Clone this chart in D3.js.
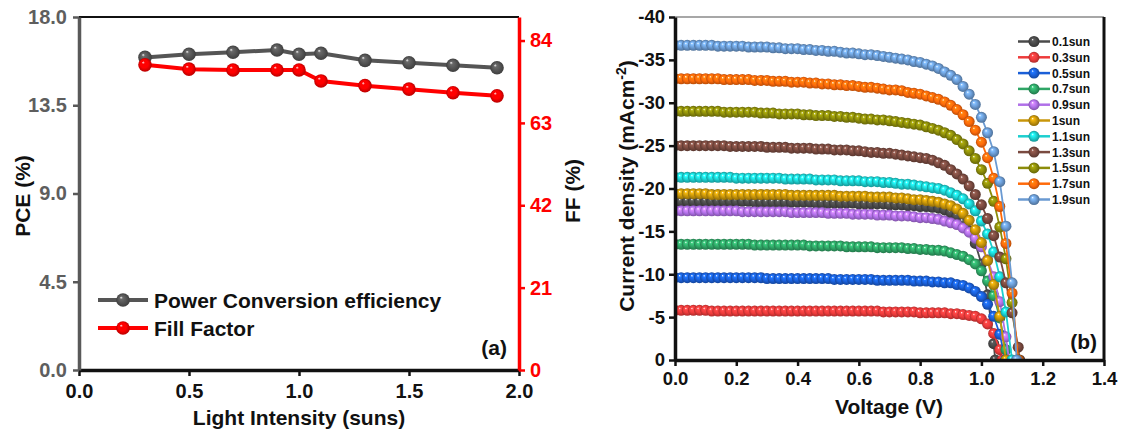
<!DOCTYPE html>
<html>
<head>
<meta charset="utf-8">
<script src="https://cdn.jsdelivr.net/npm/d3@7"></script>
<style>
  body { margin: 0; background: #fff; }
  svg { display: block; font-family: "Liberation Sans", Arial, sans-serif; font-weight: bold; }
</style>
</head>
<body>
<div id="canvas"></div>
<script>
// DATA - panel (a)
const intensity = [0.3, 0.5, 0.7, 0.9, 1.0, 1.1, 1.3, 1.5, 1.7, 1.9];
const pce = [15.94, 16.10, 16.20, 16.32, 16.10, 16.15, 15.79, 15.67, 15.54, 15.41];
const ff = [77.8, 76.7, 76.5, 76.5, 76.5, 73.7, 72.5, 71.6, 70.7, 69.9];

const pceTicks = [0, 4.5, 9, 13.5, 18];
const ffTicks = [0, 21, 42, 63, 84];
const intensityTicks = [0, 0.5, 1, 1.5, 2];

// DATA - panel (b)
const suns = ["0.1sun", "0.3sun", "0.5sun", "0.7sun", "0.9sun", "1sun", "1.1sun", "1.3sun", "1.5sun", "1.7sun", "1.9sun"];

const voltage = [
  0.00, 0.02, 0.04, 0.06, 0.08, 0.10, 0.12, 0.14, 0.16, 0.18,
  0.20, 0.22, 0.24, 0.26, 0.28, 0.30, 0.32, 0.34, 0.36, 0.38,
  0.40, 0.42, 0.44, 0.46, 0.48, 0.50, 0.52, 0.54, 0.56, 0.58,
  0.60, 0.62, 0.64, 0.66, 0.68, 0.70, 0.72, 0.74, 0.76, 0.78,
  0.80, 0.82, 0.84, 0.86, 0.88, 0.90, 0.92, 0.94, 0.96, 0.98,
  1.00, 1.02, 1.04, 1.06, 1.08, 1.10, 1.12
];

// open circuit voltage of each curve (J = 0)
const voc = [1.045, 1.068, 1.078, 1.085, 1.09, 1.08, 1.10, 1.125, 1.12, 1.12, 1.115];

const j01 = [
  -18.5,-18.5,-18.5,-18.5,-18.5,-18.5,-18.5,-18.5,-18.5,-18.5,
  -18.5,-18.5,-18.5,-18.4,-18.4,-18.4,-18.4,-18.4,-18.4,-18.4,
  -18.4,-18.4,-18.4,-18.3,-18.3,-18.3,-18.3,-18.3,-18.3,-18.3,
  -18.2,-18.2,-18.2,-18.2,-18.2,-18.1,-18.1,-18.1,-18.0,-18.0,
  -17.9,-17.9,-17.8,-17.7,-17.5,-17.2,-16.8,-16.1,-15.1,-13.6,
  -11.2,-7.6,-1.9
];
const j03 = [
  -5.8,-5.8,-5.8,-5.8,-5.8,-5.8,-5.7,-5.7,-5.7,-5.7,
  -5.7,-5.7,-5.7,-5.7,-5.7,-5.7,-5.7,-5.7,-5.7,-5.7,
  -5.7,-5.7,-5.7,-5.7,-5.7,-5.7,-5.7,-5.7,-5.7,-5.7,
  -5.7,-5.7,-5.7,-5.7,-5.6,-5.6,-5.6,-5.6,-5.6,-5.6,
  -5.5,-5.5,-5.5,-5.5,-5.5,-5.4,-5.4,-5.3,-5.2,-5.1,
  -4.8,-4.2,-3.1,-1.2
];
const j05 = [
  -9.6,-9.6,-9.6,-9.6,-9.6,-9.6,-9.6,-9.6,-9.6,-9.6,
  -9.6,-9.6,-9.6,-9.6,-9.6,-9.5,-9.5,-9.5,-9.5,-9.5,
  -9.5,-9.5,-9.5,-9.5,-9.5,-9.5,-9.4,-9.4,-9.4,-9.4,
  -9.4,-9.4,-9.4,-9.3,-9.3,-9.3,-9.3,-9.3,-9.3,-9.2,
  -9.2,-9.2,-9.1,-9.1,-9.0,-9.0,-8.8,-8.7,-8.4,-8.0,
  -7.4,-6.5,-5.1,-3.0
];
const j07 = [
  -13.5,-13.5,-13.5,-13.5,-13.5,-13.5,-13.5,-13.5,-13.5,-13.5,
  -13.5,-13.5,-13.5,-13.4,-13.4,-13.4,-13.4,-13.4,-13.4,-13.4,
  -13.4,-13.4,-13.3,-13.3,-13.3,-13.3,-13.3,-13.3,-13.2,-13.2,
  -13.2,-13.2,-13.2,-13.1,-13.1,-13.1,-13.1,-13.1,-13.0,-13.0,
  -12.9,-12.9,-12.8,-12.8,-12.7,-12.5,-12.3,-12.1,-11.7,-11.2,
  -10.4,-9.2,-7.5,-4.9,-1.2
];
const j09 = [
  -17.4,-17.4,-17.4,-17.4,-17.4,-17.4,-17.4,-17.4,-17.4,-17.4,
  -17.4,-17.3,-17.3,-17.3,-17.3,-17.3,-17.3,-17.3,-17.3,-17.2,
  -17.2,-17.2,-17.2,-17.2,-17.2,-17.1,-17.1,-17.1,-17.1,-17.0,
  -17.0,-17.0,-17.0,-16.9,-16.9,-16.9,-16.8,-16.8,-16.8,-16.7,
  -16.6,-16.6,-16.5,-16.4,-16.2,-16.0,-15.8,-15.4,-14.9,-14.2,
  -13.2,-11.7,-9.7,-6.8,-2.7
];
const j10 = [
  -19.4,-19.4,-19.4,-19.4,-19.4,-19.4,-19.3,-19.3,-19.3,-19.3,
  -19.3,-19.3,-19.3,-19.3,-19.3,-19.3,-19.3,-19.3,-19.3,-19.2,
  -19.2,-19.2,-19.2,-19.2,-19.2,-19.2,-19.2,-19.1,-19.1,-19.1,
  -19.1,-19.1,-19.0,-19.0,-19.0,-19.0,-18.9,-18.9,-18.8,-18.7,
  -18.7,-18.6,-18.5,-18.4,-18.2,-18.0,-17.6,-17.1,-16.3,-15.2,
  -13.7,-11.6,-8.8,-5.1
];
const j11 = [
  -21.3,-21.3,-21.3,-21.3,-21.3,-21.3,-21.3,-21.3,-21.3,-21.3,
  -21.2,-21.2,-21.2,-21.2,-21.2,-21.2,-21.2,-21.2,-21.1,-21.1,
  -21.1,-21.1,-21.1,-21.0,-21.0,-21.0,-21.0,-20.9,-20.9,-20.9,
  -20.9,-20.8,-20.8,-20.8,-20.7,-20.7,-20.6,-20.5,-20.5,-20.4,
  -20.3,-20.2,-20.1,-20.0,-19.8,-19.5,-19.2,-18.8,-18.2,-17.4,
  -16.2,-14.7,-12.6,-9.7,-5.6
];
const j13 = [
  -25.0,-25.0,-25.0,-25.0,-25.0,-25.0,-25.0,-25.0,-25.0,-24.9,
  -24.9,-24.9,-24.9,-24.9,-24.9,-24.8,-24.8,-24.8,-24.8,-24.7,
  -24.7,-24.7,-24.7,-24.6,-24.6,-24.6,-24.5,-24.5,-24.5,-24.4,
  -24.4,-24.3,-24.2,-24.2,-24.1,-24.1,-24.0,-23.9,-23.8,-23.7,
  -23.6,-23.5,-23.3,-23.0,-22.7,-22.2,-21.7,-21.1,-20.3,-19.3,
  -18.1,-16.5,-14.5,-12.0,-9.0,-5.5,-1.5
];
const j15 = [
  -29.0,-29.0,-29.0,-29.0,-29.0,-29.0,-29.0,-29.0,-28.9,-28.9,
  -28.9,-28.9,-28.9,-28.9,-28.8,-28.8,-28.8,-28.7,-28.7,-28.7,
  -28.7,-28.6,-28.6,-28.5,-28.5,-28.5,-28.4,-28.4,-28.3,-28.3,
  -28.2,-28.1,-28.1,-28.0,-28.0,-27.9,-27.8,-27.7,-27.6,-27.5,
  -27.4,-27.2,-27.0,-26.8,-26.5,-26.2,-25.7,-25.2,-24.4,-23.5,
  -22.2,-20.6,-18.5,-15.5,-11.8,-6.7
];
const j17 = [
  -32.8,-32.8,-32.8,-32.8,-32.8,-32.8,-32.8,-32.8,-32.7,-32.7,
  -32.7,-32.7,-32.7,-32.6,-32.6,-32.6,-32.5,-32.5,-32.5,-32.4,
  -32.4,-32.4,-32.3,-32.3,-32.2,-32.2,-32.1,-32.1,-32.0,-32.0,
  -31.9,-31.8,-31.8,-31.7,-31.6,-31.5,-31.5,-31.4,-31.2,-31.1,
  -31.0,-30.8,-30.6,-30.4,-30.1,-29.7,-29.2,-28.6,-27.8,-26.8,
  -25.4,-23.6,-21.2,-17.9,-13.6,-7.8
];
const j19 = [
  -36.7,-36.7,-36.7,-36.7,-36.7,-36.7,-36.7,-36.6,-36.6,-36.6,
  -36.6,-36.6,-36.5,-36.5,-36.5,-36.5,-36.4,-36.4,-36.3,-36.3,
  -36.3,-36.2,-36.2,-36.1,-36.1,-36.0,-36.0,-35.9,-35.8,-35.8,
  -35.7,-35.6,-35.6,-35.5,-35.4,-35.3,-35.2,-35.1,-35.0,-34.8,
  -34.7,-34.5,-34.3,-34.0,-33.6,-33.2,-32.7,-31.9,-31.0,-29.8,
  -28.3,-26.5,-24.3,-20.8,-15.6,-9.0
];
const currents = [j01, j03, j05, j07, j09, j10, j11, j13, j15, j17, j19];

const voltageTicks = [0, 0.2, 0.4, 0.6, 0.8, 1.0, 1.2, 1.4];
const currentTicks = [0, -5, -10, -15, -20, -25, -30, -35, -40];

// STYLES
const sunColors = ["#4a4a4a", "#ee3b3b", "#1a5fd8", "#2fa566", "#b070e8", "#c8960a",
                   "#1ccfcf", "#7a4a40", "#8c8c0a", "#ff6a0a", "#6a9ad2"];
const pceColor = "#555555";
const ffColor = "#ff0000";

// CANVAS
const width = 1123;
const height = 434;

const svg = d3.select("#canvas")
  .append("svg")
  .attr("width", width)
  .attr("height", height)
  .style("background", "#fff");

const defs = svg.append("defs");

function ballGradient(id, color) {
  const grad = defs.append("radialGradient")
    .attr("id", id)
    .attr("cx", "50%").attr("cy", "50%").attr("r", "50%")
    .attr("fx", "35%").attr("fy", "30%");
  grad.append("stop").attr("offset", "0%").attr("stop-color", "#ffffff");
  grad.append("stop").attr("offset", "22%").attr("stop-color", d3.color(color).brighter(0.6));
  grad.append("stop").attr("offset", "60%").attr("stop-color", color);
  grad.append("stop").attr("offset", "100%").attr("stop-color", d3.color(color).darker(0.9));
  return `url(#${id})`;
}

function styleAxis(g, color, textColor, size) {
  g.attr("font-family", null).attr("font-size", null);
  g.select(".domain").attr("stroke", color).attr("stroke-width", 3.5);
  g.selectAll(".tick line").attr("stroke", color).attr("stroke-width", 2.5);
  g.selectAll(".tick text")
    .attr("fill", textColor)
    .style("font-size", size + "px")
    .style("font-weight", "bold");
}

// ===================== PANEL (a) =====================
const xA = d3.scaleLinear().domain([0, 2]).range([79, 519]);
const yA = d3.scaleLinear().domain([0, 18]).range([370, 17]);
const yFF = d3.scaleLinear().domain([0, 90]).range([370, 17]);

// frame top
svg.append("line")
  .attr("x1", xA(0)).attr("x2", xA(2))
  .attr("y1", yA(18)).attr("y2", yA(18))
  .attr("stroke", "#111").attr("stroke-width", 2);

const pceLine = d3.line().x((d, i) => xA(intensity[i])).y(d => yA(d));
const ffLine = d3.line().x((d, i) => xA(intensity[i])).y(d => yFF(d));

const pceFill = ballGradient("ballPce", pceColor);
const ffFill = ballGradient("ballFf", ffColor);

svg.append("path").datum(pce)
  .attr("d", pceLine).attr("fill", "none")
  .attr("stroke", pceColor).attr("stroke-width", 4);
svg.append("path").datum(ff)
  .attr("d", ffLine).attr("fill", "none")
  .attr("stroke", ffColor).attr("stroke-width", 4);

svg.selectAll("circle.pce")
  .data(pce)
  .join("circle")
  .attr("class", "pce")
  .attr("cx", (d, i) => xA(intensity[i]))
  .attr("cy", d => yA(d))
  .attr("r", 6.8)
  .attr("fill", pceFill);

svg.selectAll("circle.ff")
  .data(ff)
  .join("circle")
  .attr("class", "ff")
  .attr("cx", (d, i) => xA(intensity[i]))
  .attr("cy", d => yFF(d))
  .attr("r", 6.8)
  .attr("fill", ffFill);

// axes
const axA_b = svg.append("g")
  .attr("transform", `translate(0,${yA(0)})`)
  .call(d3.axisBottom(xA).tickValues(intensityTicks).tickFormat(d3.format(".1f"))
    .tickSize(6).tickSizeOuter(0).tickPadding(8));
styleAxis(axA_b, "#111", "#111", 20);

const axA_l = svg.append("g")
  .attr("transform", `translate(${xA(0)},0)`)
  .call(d3.axisLeft(yA).tickValues(pceTicks).tickFormat(d3.format(".1f"))
    .tickSize(6).tickSizeOuter(0).tickPadding(6));
styleAxis(axA_l, "#595959", "#5e5e5e", 20);

const axA_r = svg.append("g")
  .attr("transform", `translate(${xA(2)},0)`)
  .call(d3.axisRight(yFF).tickValues(ffTicks).tickFormat(d3.format("d"))
    .tickSize(6).tickSizeOuter(0).tickPadding(5));
styleAxis(axA_r, ffColor, ffColor, 20);

// titles
svg.append("text")
  .attr("transform", "translate(30,196) rotate(-90)")
  .attr("text-anchor", "middle")
  .style("font-size", "21px").attr("fill", "#111")
  .text("PCE (%)");

svg.append("text")
  .attr("transform", "translate(580,191) rotate(-90)")
  .attr("text-anchor", "middle")
  .style("font-size", "21px").attr("fill", "#111")
  .text("FF (%)");

svg.append("text")
  .attr("x", 299).attr("y", 425)
  .attr("text-anchor", "middle")
  .style("font-size", "21px").attr("fill", "#111")
  .text("Light Intensity (suns)");

svg.append("text")
  .attr("x", 507).attr("y", 355)
  .attr("text-anchor", "end")
  .style("font-size", "21px").attr("fill", "#111")
  .text("(a)");

// legend (a)
const legendA = [
  { label: "Power Conversion efficiency", color: pceColor, fill: pceFill, y: 300 },
  { label: "Fill Factor", color: ffColor, fill: ffFill, y: 328 }
];
const legA = svg.selectAll("g.legA")
  .data(legendA)
  .join("g")
  .attr("class", "legA")
  .attr("transform", d => `translate(0,${d.y})`);
legA.append("line")
  .attr("x1", 98).attr("x2", 148)
  .attr("stroke", d => d.color).attr("stroke-width", 4);
legA.append("circle")
  .attr("cx", 123).attr("r", 6.8)
  .attr("fill", d => d.fill);
legA.append("text")
  .attr("x", 154).attr("y", 7.5)
  .style("font-size", "21px").attr("fill", "#111")
  .text(d => d.label);

// ===================== PANEL (b) =====================
const xB = d3.scaleLinear().domain([0, 1.4]).range([675, 1104]);
const yB = d3.scaleLinear().domain([0, -40]).range([360, 17]);

defs.append("clipPath").attr("id", "clipB")
  .append("rect")
  .attr("x", xB(0)).attr("y", yB(-40))
  .attr("width", xB(1.4) - xB(0)).attr("height", yB(0) - yB(-40));

// frame top and right
svg.append("line")
  .attr("x1", xB(0)).attr("x2", xB(1.4))
  .attr("y1", yB(-40)).attr("y2", yB(-40))
  .attr("stroke", "#8a8a8a").attr("stroke-width", 1.5);
svg.append("line")
  .attr("x1", xB(1.4)).attr("x2", xB(1.4))
  .attr("y1", yB(-40)).attr("y2", yB(0))
  .attr("stroke", "#111").attr("stroke-width", 3);

const curves = currents.map((j, k) => {
  const pts = j.map((v, i) => [voltage[i], v]);
  pts.push([voc[k], 0]);
  return { name: suns[k], color: sunColors[k], fill: ballGradient("ball" + k, sunColors[k]), pts: pts };
});

const plotB = svg.append("g").attr("clip-path", "url(#clipB)");
const ivLine = d3.line().x(d => xB(d[0])).y(d => yB(d[1]));

const curveG = plotB.selectAll("g.curve")
  .data(curves)
  .join("g")
  .attr("class", "curve");

curveG.append("path")
  .attr("d", d => ivLine(d.pts))
  .attr("fill", "none")
  .attr("stroke", d => d.color)
  .attr("stroke-width", 1.8);

curveG.each(function (c) {
  d3.select(this).selectAll("circle")
    .data(c.pts)
    .join("circle")
    .attr("cx", d => xB(d[0]))
    .attr("cy", d => yB(d[1]))
    .attr("r", 5.5)
    .attr("fill", c.fill);
});

const axB_b = svg.append("g")
  .attr("transform", `translate(0,${yB(0)})`)
  .call(d3.axisBottom(xB).tickValues(voltageTicks).tickFormat(d3.format(".1f"))
    .tickSize(6).tickSizeOuter(0).tickPadding(6));
styleAxis(axB_b, "#111", "#111", 18.5);

const axB_l = svg.append("g")
  .attr("transform", `translate(${xB(0)},0)`)
  .call(d3.axisLeft(yB).tickValues(currentTicks).tickFormat(d => String(d))
    .tickSize(6).tickSizeOuter(0).tickPadding(4));
styleAxis(axB_l, "#111", "#111", 18.5);

// titles
const yTitle = svg.append("text")
  .attr("transform", "translate(634,186) rotate(-90)")
  .attr("text-anchor", "middle")
  .style("font-size", "21px").attr("fill", "#111");
yTitle.append("tspan").text("Current density (mAcm");
yTitle.append("tspan").attr("dy", "-8").style("font-size", "14px").text("-2");
yTitle.append("tspan").attr("dy", "8").text(")");

svg.append("text")
  .attr("x", 889).attr("y", 414)
  .attr("text-anchor", "middle")
  .style("font-size", "21px").attr("fill", "#111")
  .text("Voltage (V)");

svg.append("text")
  .attr("x", 1097).attr("y", 349)
  .attr("text-anchor", "end")
  .style("font-size", "21px").attr("fill", "#111")
  .text("(b)");

// legend (b)
const legB = svg.selectAll("g.legB")
  .data(curves)
  .join("g")
  .attr("class", "legB")
  .attr("transform", (d, i) => `translate(0,${41.5 + i * 15.8})`);
legB.append("line")
  .attr("x1", 1018).attr("x2", 1050)
  .attr("stroke", d => d.color).attr("stroke-width", 2.5);
legB.append("circle")
  .attr("cx", 1034).attr("r", 5.5)
  .attr("fill", d => d.fill);
legB.append("text")
  .attr("x", 1052).attr("y", 4.4)
  .style("font-size", "12px").attr("fill", "#111")
  .text(d => d.name);
</script>
</body>
</html>
